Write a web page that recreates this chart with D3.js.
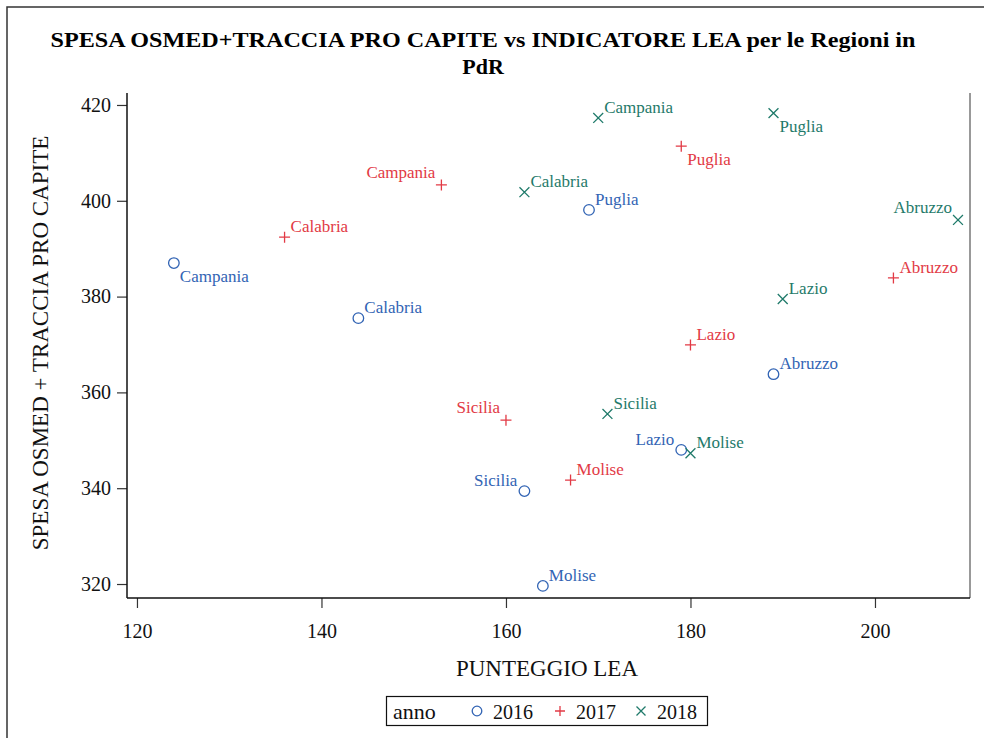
<!DOCTYPE html>
<html><head><meta charset="utf-8">
<script src="https://cdn.jsdelivr.net/npm/d3@7"></script>
<style>body{margin:0;background:#fff}svg{display:block}text{font-family:"Liberation Serif","Times New Roman",serif}</style>
</head><body>
<script>
const regions = ["Campania","Calabria","Puglia","Abruzzo","Lazio","Sicilia","Molise"];
const years = ["2016","2017","2018"];
const lea2016 = [124, 144, 169, 189, 179, 162, 164];
const spesa2016 = [387.0, 375.5, 398.1, 363.8, 348.0, 339.4, 319.6];
const lea2017 = [153, 136, 179, 202, 180, 160, 167];
const spesa2017 = [403.3, 392.4, 411.4, 383.9, 369.9, 354.2, 341.7];
const lea2018 = [170, 162, 189, 209, 190, 171, 180];
const spesa2018 = [417.3, 401.8, 418.3, 396.0, 379.5, 355.5, 347.3];
const xTicks = [120, 140, 160, 180, 200];
const yTicks = [320, 340, 360, 380, 400, 420];
// label placement per year (order of regions)
const place2016 = ["SE","NE","NE","NE","W","W","NE"];
const place2017 = ["NW","NE","SE","NE","NE","NW","NE"];
const place2018 = ["NE","NE","SE","NW","NE","NE","NE"];

const colors = {"2016":"#3264b4","2017":"#e23a45","2018":"#1f7a6a"};
const series = [
  {year:"2016", x:lea2016, y:spesa2016, p:place2016, sym:"circle"},
  {year:"2017", x:lea2017, y:spesa2017, p:place2017, sym:"plus"},
  {year:"2018", x:lea2018, y:spesa2018, p:place2018, sym:"x"}
];

const W=984,H=738;
const L=127,R=970,T=93,B=598;
const svg=d3.select("body").append("svg").attr("width",W).attr("height",H);
svg.append("path").attr("d",`M7,${H} V7 H${W}`).attr("fill","none").attr("stroke","#333").attr("stroke-width",1.5);

const x=d3.scaleLinear().domain([118.92,210.3]).range([L,R]);
const y=d3.scaleLinear().domain([317.08,422.5]).range([B,T]);

svg.append("text").attr("x",483).attr("y",47).attr("text-anchor","middle")
  .attr("font-weight","bold").attr("font-size",22).attr("textLength",865).attr("lengthAdjust","spacingAndGlyphs")
  .text("SPESA OSMED+TRACCIA PRO CAPITE vs INDICATORE LEA per le Regioni in");
svg.append("text").attr("x",483).attr("y",74).attr("text-anchor","middle")
  .attr("font-weight","bold").attr("font-size",22).text("PdR");

svg.append("line").attr("x1",R).attr("x2",R).attr("y1",T).attr("y2",B).attr("stroke","#777").attr("stroke-width",1.5);

const xa=svg.append("g").attr("transform",`translate(0,${B})`)
  .call(d3.axisBottom(x).tickValues(xTicks).tickSize(10).tickPadding(16).tickSizeOuter(0));
const ya=svg.append("g").attr("transform",`translate(${L},0)`)
  .call(d3.axisLeft(y).tickValues(yTicks).tickSize(10).tickPadding(6).tickSizeOuter(0));
[xa,ya].forEach(a=>{
  a.select(".domain").remove();
  a.selectAll("line").attr("stroke","#333").attr("stroke-width",1.2);
  a.selectAll("text").attr("font-size",20).attr("fill","#111").attr("font-family","Liberation Serif");
});
svg.append("line").attr("x1",L).attr("x2",L).attr("y1",T).attr("y2",B).attr("stroke","#111").attr("stroke-width",1.5);
svg.append("line").attr("x1",L).attr("x2",R).attr("y1",B).attr("y2",B).attr("stroke","#111").attr("stroke-width",1.5);

svg.append("text").attr("x",547).attr("y",676).attr("text-anchor","middle").attr("font-size",23).attr("fill","#111").text("PUNTEGGIO LEA");
svg.append("text").attr("transform","translate(48,343) rotate(-90)").attr("text-anchor","middle").attr("font-size",23).attr("fill","#111").text("SPESA OSMED + TRACCIA PRO CAPITE");

function drawSym(g,sym,cx,cy,col,s){
  if(sym==="circle") g.append("circle").attr("cx",cx).attr("cy",cy).attr("r",s*0.48).attr("fill","none").attr("stroke",col).attr("stroke-width",1.3);
  else if(sym==="plus") g.append("path").attr("d",`M${cx-s/2},${cy}H${cx+s/2}M${cx},${cy-s/2}V${cy+s/2}`).attr("stroke",col).attr("stroke-width",1.3);
  else { const h=s*0.45; g.append("path").attr("d",`M${cx-h},${cy-h}L${cx+h},${cy+h}M${cx-h},${cy+h}L${cx+h},${cy-h}`).attr("stroke",col).attr("stroke-width",1.3);}
}

const gp=svg.append("g");
series.forEach(s=>{
  const col=colors[s.year];
  regions.forEach((r,i)=>{
    const cx=x(s.x[i]), cy=y(s.y[i]);
    drawSym(gp,s.sym,cx,cy,col,11);
    const pl=s.p[i];
    let dx=6,dy=-5,anchor="start";
    if(pl==="SE"){dx=6;dy=19;}
    else if(pl==="NW"){dx=-6;dy=-7;anchor="end";}
    else if(pl==="W"){dx=-7;dy=-5;anchor="end";}
    gp.append("text").attr("x",cx+dx).attr("y",cy+dy).attr("text-anchor",anchor)
      .attr("font-size",17).attr("fill",col).text(r);
  });
});

const lg=svg.append("g");
lg.append("rect").attr("x",386.5).attr("y",696.5).attr("width",321).attr("height",29).attr("fill","#fff").attr("stroke","#111").attr("stroke-width",1.2);
lg.append("text").attr("x",393).attr("y",719).attr("font-size",22).attr("fill","#111").text("anno");
const lx=[477,560,641];
series.forEach((s,k)=>{
  drawSym(lg,s.sym,lx[k],711,colors[s.year],10);
  lg.append("text").attr("x",lx[k]+16).attr("y",719).attr("font-size",20).attr("fill","#111").text(s.year);
});
</script>
</body></html>
